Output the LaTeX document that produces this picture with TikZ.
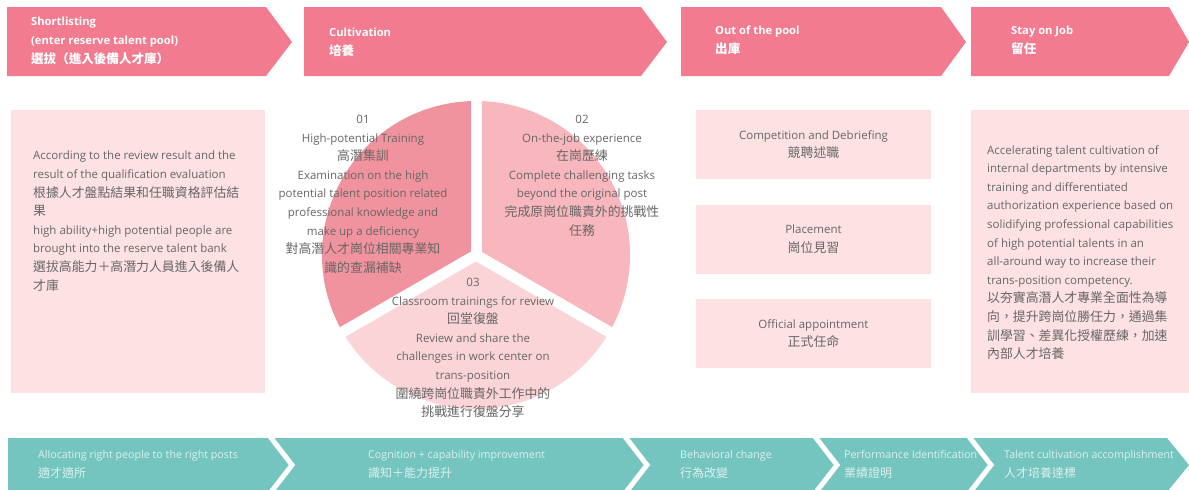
\documentclass[tikz,border=0pt]{standalone}
\usepackage{fontspec}
\setmainfont{Open Sans}
\newfontfamily\cjk[Scale=1.12]{Noto Sans CJK TC}
\definecolor{poolpink}{HTML}{F27B8F}
\definecolor{poollight}{HTML}{FDE1E3}
\definecolor{pieone}{HTML}{F1939E}
\definecolor{pietwo}{HTML}{F8B6BD}
\definecolor{piethree}{HTML}{FBD4D8}
\definecolor{stageteal}{HTML}{74C4BF}
\definecolor{bodygrey}{HTML}{666666}
\definecolor{stagetext}{HTML}{DDF1EF}

\tikzset{
  headtext/.style={text=white, font=\bfseries\fontsize{11.2}{19}\selectfont,
    align=left, anchor=north west, inner sep=0},
  bodytext/.style={text=bodygrey, font=\fontsize{11.5}{18.6}\selectfont, inner sep=0},
  poolbox/.style={bodytext, fill=poollight, align=center,
    minimum width=235, minimum height=69},
  stagelabel/.style={text=stagetext, font=\fontsize{10.7}{19}\selectfont,
    align=left, anchor=north west, inner sep=0},
}

\begin{document}
\begin{tikzpicture}[x=1pt, y=-1pt, line join=miter]
        \useasboundingbox (0,0) rectangle (1189,490);

        % top arrows
        \fill[poolpink] (7,7) -- (266,7) -- (292,42) -- (266,76) -- (7,76) -- cycle;
        \fill[poolpink] (304,7) -- (641,7) -- (667,42) -- (641,76) -- (304,76) -- cycle;
        \fill[poolpink] (681,7) -- (941,7) -- (966,42) -- (941,76) -- (681,76) -- cycle;
        \fill[poolpink] (971,7) -- (1169,7) -- (1189,42) -- (1169,76) -- (971,76) -- cycle;

        \node[headtext] (shortlist) at (31,17)
          {Shortlisting\\(enter reserve talent pool)\\{\cjk 選拔（進入後備人才庫）}};
        \node[headtext] (cultivate) at (329,28) {Cultivation\\{\cjk 培養}};
        \node[headtext] (outpool) at (715,26) {Out of the pool\\{\cjk 出庫}};
        \node[headtext] (stayjob) at (1011,26) {Stay on Job\\{\cjk 留任}};

        % left and right boxes
        \fill[poollight] (11,110) rectangle (265,393);
        \fill[poollight] (971,110) rectangle (1189,393);

        \node[bodytext, align=left, anchor=north west] (review) at (33,151)
          {According to the review result and the\\
           result of the qualification evaluation\\
           {\cjk 根據人才盤點結果和任職資格評估結}\\
           {\cjk 果}\\
           high ability+high potential people are\\
           brought into the reserve talent bank\\
           {\cjk 選拔高能力＋高潛力人員進入後備人}\\
           {\cjk 才庫}};

        \node[bodytext, align=left, anchor=north west] (accel) at (987,145)
          {Accelerating talent cultivation of\\
           internal departments by intensive\\
           training and differentiated\\
           authorization experience based on\\
           solidifying professional capabilities\\
           of high potential talents in an\\
           all-around way to increase their\\
           trans-position competency.\\
           {\cjk 以夯實高潛人才專業全面性為導}\\
           {\cjk 向，提升跨崗位勝任力，通過集}\\
           {\cjk 訓學習、差異化授權歷練，加速}\\
           {\cjk 內部人才培養}};

        % pie
        \coordinate (hub) at (476,255);
        \fill[pieone] (hub) -- ++(150:154) arc[start angle=150, end angle=270, radius=154] -- cycle;
        \fill[pietwo] (hub) -- ++(270:154) arc[start angle=270, end angle=390, radius=154] -- cycle;
        \fill[piethree] (hub) -- ++(30:154) arc[start angle=30, end angle=150, radius=154] -- cycle;
        \foreach \cut in {30,150,270}
          \draw[white, line width=11pt] (hub) -- ++(\cut:170);

        \node[bodytext, align=center, anchor=north] (train) at (363,115)
          {01\\High-potential Training\\{\cjk 高潛集訓}\\
           Examination on the high\\potential talent position related\\
           professional knowledge and\\make up a deficiency\\
           {\cjk 對高潛人才崗位相關專業知}\\{\cjk 識的查漏補缺}};
        \node[bodytext, align=center, anchor=north] (onjob) at (582,115)
          {02\\On-the-job experience\\{\cjk 在崗歷練}\\
           Complete challenging tasks\\beyond the original post\\
           {\cjk 完成原崗位職責外的挑戰性}\\{\cjk 任務}};
        \node[bodytext, align=center, anchor=north] (classroom) at (473,278)
          {03\\Classroom trainings for review\\{\cjk 回堂復盤}\\
           Review and share the\\challenges in work center on\\trans-position\\
           {\cjk 圍繞跨崗位職責外工作中的}\\{\cjk 挑戰進行復盤分享}};

        % out of the pool steps
        \node[poolbox] (compete) at (813.5,144.5) {Competition and Debriefing\\{\cjk 競聘述職}};
        \node[poolbox] (place) at (813.5,239) {Placement\\{\cjk 崗位見習}};
        \node[poolbox] (appoint) at (813.5,333.5) {Official appointment\\{\cjk 正式任命}};

        % bottom band
        \fill[stageteal] (8,438) -- (1167,438) -- (1189,465) -- (1167,492) -- (8,492) -- cycle;
        \foreach \tipx in {292,647,837,991}
          \draw[white, line width=5pt] (\tipx-24,434) -- (\tipx,465) -- (\tipx-24,496);

        \node[stagelabel] (allocate) at (38,450)
          {Allocating right people to the right posts\\{\cjk 適才適所}};
        \node[stagelabel] (cognize) at (368,450)
          {Cognition + capability improvement\\{\cjk 識知＋能力提升}};
        \node[stagelabel] (behave) at (680,450) {Behavioral change\\{\cjk 行為改變}};
        \node[stagelabel] (perform) at (844,450) {Performance Identification\\{\cjk 業績證明}};
        \node[stagelabel] (achieve) at (1004,450)
          {Talent cultivation accomplishment\\{\cjk 人才培養達標}};
      \end{tikzpicture}
\end{document}
